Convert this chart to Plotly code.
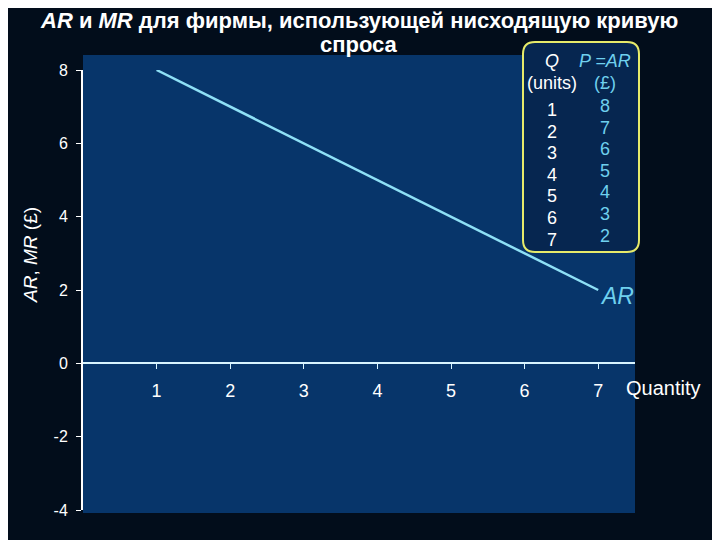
import plotly.graph_objects as go

quantity = [1, 2, 3, 4, 5, 6, 7]
price_ar = [8, 7, 6, 5, 4, 3, 2]
y_ticks = [-4, -2, 0, 2, 4, 6, 8]
y_tick_text = ["-4", "-2", "0", "2", "4", "6", "8"]
title_lines = ["<b><i>AR</i> и <i>MR</i> для фирмы, использующей нисходящую кривую</b>",
               "<b>спроса</b>"]

Y_MIN, Y_MAX = -4, 8
X_MIN, X_MAX = 0, 7.5

# page body offsets the figure by 8px; screen-pixel helpers for the plot domain
PL, PR, PT, PB = 83, 635, 70, 510


def px_x(px):
    return (px - PL) / (PR - PL)


def px_y(py):
    return (PB - py) / (PB - PT)


fig = go.Figure()

fig.add_trace(go.Scatter(
    x=quantity, y=price_ar, mode="lines",
    line=dict(color="#8ee0f6", width=2.5),
    hoverinfo="skip", showlegend=False,
))

shapes = [
    dict(type="rect", xref="paper", yref="paper", x0=0, x1=1.0, y0=px_y(513), y1=px_y(55),
         fillcolor="#07356a", line=dict(width=0), layer="below"),
]

bx0, bx1, by0, by1, r = 523, 639, 42, 252, 12
x0, x1 = px_x(bx0), px_x(bx1)
y_top, y_bot = px_y(by0), px_y(by1)
rx, ry = r / (PR - PL), r / (PB - PT)
path = (f"M {x0+rx},{y_top} L {x1-rx},{y_top} Q {x1},{y_top} {x1},{y_top-ry} "
        f"L {x1},{y_bot+ry} Q {x1},{y_bot} {x1-rx},{y_bot} "
        f"L {x0+rx},{y_bot} Q {x0},{y_bot} {x0},{y_bot+ry} "
        f"L {x0},{y_top-ry} Q {x0},{y_top} {x0+rx},{y_top} Z")
shapes.append(dict(type="path", xref="paper", yref="paper", path=path,
                   fillcolor="#062650", line=dict(color="#e6ea6a", width=2)))

FAM = "Liberation Sans, Arial"
annotations = []
tfont_w = dict(family=FAM, size=18, color="white")
tfont_c = dict(family=FAM, size=18, color="#6fd0ee")
col_q = px_x(552)
col_p = px_x(605)


def cell(x, y, text, font):
    return dict(xref="paper", yref="paper", x=x, y=y, text=text, showarrow=False,
                xanchor="center", yanchor="middle", font=font)


annotations.append(cell(col_q, px_y(61), "<i>Q</i>", tfont_w))
annotations.append(cell(col_p, px_y(61), "<i>P =AR</i>", tfont_c))
annotations.append(cell(col_q, px_y(83), "(units)", tfont_w))
annotations.append(cell(col_p, px_y(83), "(£)", tfont_c))
for i, (q, p) in enumerate(zip(quantity, price_ar)):
    annotations.append(cell(col_q, px_y(110 + i * 21.6), str(q), tfont_w))
    annotations.append(cell(col_p, px_y(106 + i * 21.6), str(p), tfont_c))

annotations.append(dict(x=quantity[-1], y=price_ar[-1], text="<i>AR</i>", showarrow=False,
                        xanchor="left", yanchor="middle", xshift=0, yshift=-6,
                        font=dict(family=FAM, size=23, color="#6fd0ee")))
annotations.append(dict(x=X_MAX, y=0, text="Quantity", showarrow=False,
                        xanchor="left", yanchor="middle", xshift=-11, yshift=-25,
                        font=dict(family=FAM, size=20, color="white")))
annotations.append(dict(xref="paper", yref="paper", x=px_x(31), y=px_y(255),
                        xanchor="center", yanchor="middle",
                        text="<i>AR</i>, <i>MR</i> (£)", textangle=-90, showarrow=False,
                        font=dict(family=FAM, size=19, color="white")))
for line, ypx in zip(title_lines, [20, 44]):
    annotations.append(dict(xref="paper", yref="paper", x=px_x(359), y=px_y(ypx),
                            xanchor="center", yanchor="middle", text=line, showarrow=False,
                            font=dict(family=FAM, size=22, color="white")))

fig.update_layout(
    width=720, height=540,
    margin=dict(l=PL - 8, r=720 - PR + 8, t=PT - 8, b=540 - PB + 8),
    paper_bgcolor="#020d1b",
    plot_bgcolor="rgba(0,0,0,0)",
    shapes=shapes,
    annotations=annotations,
    showlegend=False,
    xaxis=dict(
        range=[X_MIN, X_MAX], tickvals=quantity, ticktext=[str(q) for q in quantity],
        anchor="free", position=(0 - Y_MIN) / (Y_MAX - Y_MIN),
        showline=True, linecolor="#d8f4ff", linewidth=2,
        ticks="outside", ticklen=5, tickcolor="#d8f4ff", tickwidth=1,
        ticklabelstandoff=6,
        showgrid=False, zeroline=False,
        tickfont=dict(family=FAM, size=18, color="white"),
    ),
    yaxis=dict(
        range=[Y_MIN, Y_MAX], tickvals=y_ticks, ticktext=y_tick_text,
        showline=True, linecolor="white", linewidth=2,
        ticks="outside", ticklen=5, tickcolor="white", tickwidth=1,
        ticklabelstandoff=5,
        showgrid=False, zeroline=False,
        tickfont=dict(family=FAM, size=16, color="white"),
    ),
)

fig.write_html("out.html")
